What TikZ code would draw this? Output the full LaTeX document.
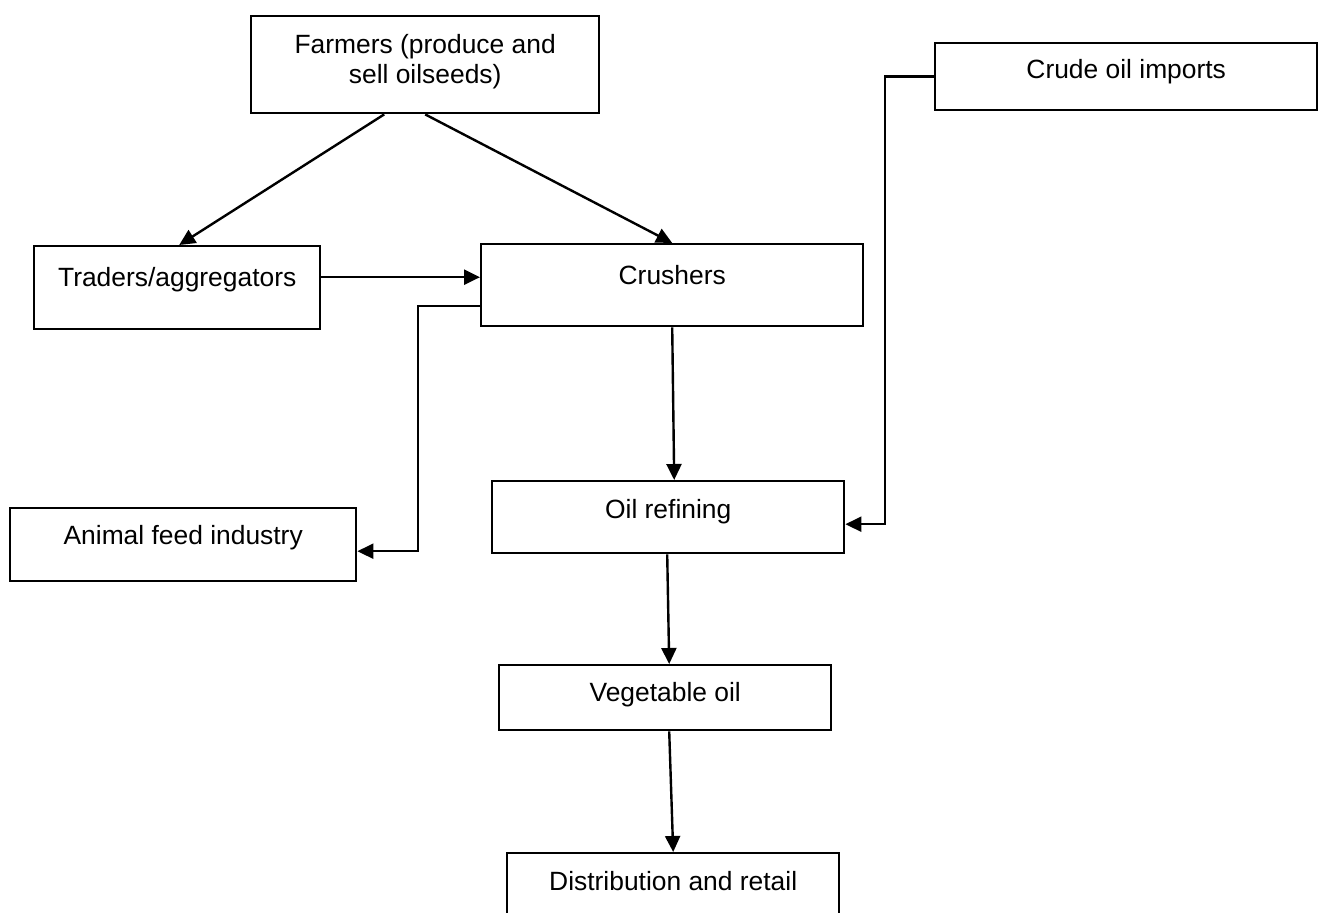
\documentclass[tikz,border=0pt]{standalone}
\usepackage{fontspec}
\setmainfont{Liberation Sans}
\usetikzlibrary{arrows.meta}
\tikzset{
  box/.style={draw, line width=1.2pt, anchor=north west, inner xsep=0pt, inner ysep=0pt,
    font=\fontsize{13.2}{15}\selectfont},
  arr/.style={line width=1.2pt, -{Triangle[length=8pt,width=7.5pt]}},
}
\begin{document}
\begin{tikzpicture}[x=0.5pt,y=-0.5pt]
\useasboundingbox (0,0) rectangle (1320,913);
\clip (0,0) rectangle (1320,913);
\node[box, minimum width=174pt, text height=18.5pt, text depth=30pt] (farmers) at (250,15)
  {\begin{tabular}[t]{@{}c@{}}Farmers (produce and\\sell oilseeds)\end{tabular}};
\node[box, minimum width=191pt, text height=17.5pt, text depth=16pt] (crude) at (934,42) {Crude oil imports};
\node[box, minimum width=143pt, text height=20pt, text depth=21.5pt] (traders) at (33,245) {Traders/aggregators};
\node[box, minimum width=191pt, text height=20pt, text depth=21pt] (crushers) at (480,243) {Crushers};
\node[box, minimum width=173pt, text height=18pt, text depth=18.5pt] (feed) at (9,507) {Animal feed industry};
\node[box, minimum width=176pt, text height=18.5pt, text depth=17.5pt] (refining) at (491,480) {Oil refining};
\node[box, minimum width=166pt, text height=18pt, text depth=14.5pt] (veg) at (498,664) {Vegetable oil};
\node[box, minimum width=166pt, text height=18.5pt, text depth=30pt] (dist) at (506,852) {Distribution and retail};

\draw[arr] ([xshift=-20.5pt]farmers.south) -- ([xshift=1pt]traders.north);
\draw[arr] (farmers.south) -- (crushers.north);
\coordinate (t1) at ([yshift=5.25pt]traders.east);
\draw[arr] (t1) -- (t1 -| crushers.west);
\draw[arr] ([yshift=-10.5pt]crushers.west) -- ++(-31pt,0) |- ([yshift=-3.25pt]feed.east);
\draw[arr] (crushers.south) -- ([xshift=3pt]refining.north);
\draw[arr] (crude.west) -- ++(-24.5pt,0) |- ([yshift=-3.5pt]refining.east);
\draw[arr] ([xshift=-0.5pt]refining.south) -- ([xshift=2pt]veg.north);
\draw[arr] ([xshift=2pt]veg.south) -- (dist.north);
\end{tikzpicture}
\end{document}
